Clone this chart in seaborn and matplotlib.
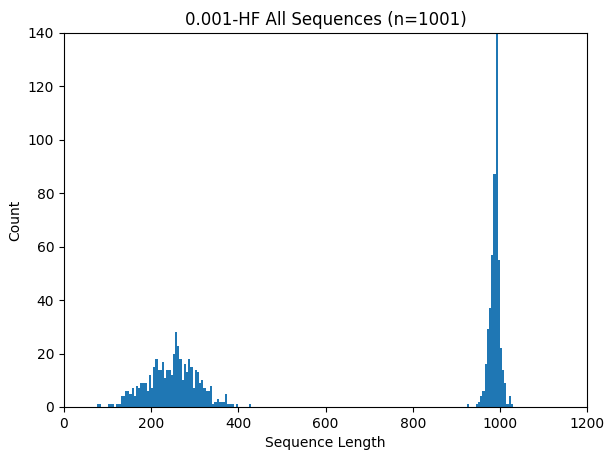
import pandas as pd
import matplotlib
matplotlib.use('Agg')
import matplotlib.pyplot as plt
import seaborn as sns

# ------------------------------------------------------------------
# Data: histogram bins (bin centre, count)
# ------------------------------------------------------------------
short_lengths = [77.5, 82.5, 102.5, 107.5, 112.5, 122.5, 127.5,
                 132.5, 137.5, 142.5, 147.5, 152.5, 157.5, 162.5, 167.5,
                 172.5, 177.5, 182.5, 187.5, 192.5, 197.5, 202.5, 207.5,
                 212.5, 217.5, 222.5, 227.5, 232.5, 237.5, 242.5, 247.5,
                 252.5, 257.5, 262.5, 267.5, 272.5, 277.5, 282.5, 287.5,
                 292.5, 297.5, 302.5, 307.5, 312.5, 317.5, 322.5, 327.5,
                 332.5, 337.5, 342.5, 347.5, 352.5, 357.5, 362.5, 367.5,
                 372.5, 377.5, 382.5, 387.5, 397.5, 427.5]
short_counts = [1, 1, 1, 1, 1, 1, 1,
                4, 4, 6, 6, 5, 7, 4, 8,
                7, 9, 9, 9, 6, 12, 7, 15,
                18, 14, 14, 17, 11, 14, 14, 12,
                20, 28, 23, 18, 10, 16, 13, 18,
                15, 7, 14, 13, 9, 10, 7, 6,
                6, 8, 1, 2, 3, 2, 2, 2,
                5, 1, 1, 1, 1, 1]

long_lengths = [927.5, 947.5, 952.5, 957.5, 962.5, 967.5, 972.5, 977.5,
                982.5, 987.5, 992.5, 997.5, 1002.5, 1007.5, 1012.5,
                1017.5, 1022.5, 1027.5]
long_counts = [1, 1, 2, 4, 6, 16, 29, 37,
               57, 87, 153, 55, 22, 14, 9,
               1, 4, 1]

df = pd.DataFrame({
    'length': short_lengths + long_lengths,
    'count': short_counts + long_counts,
})
n_total = int(df['count'].sum())

# ------------------------------------------------------------------
# Plot
# ------------------------------------------------------------------
fig, ax = plt.subplots(figsize=(6.09, 4.5), dpi=100)
fig.subplots_adjust(left=0.105, right=0.964, top=0.927, bottom=0.0956)

sns.histplot(data=df, x='length', weights='count', binwidth=5, binrange=(75, 1030),
             color='#1f77b4', alpha=1, linewidth=0, ax=ax)

ax.set_xlim(0, 1200)
ax.set_ylim(0, 140)
ax.set_xticks(range(0, 1201, 200))
ax.set_yticks(range(0, 141, 20))
ax.set_title(f'0.001-HF All Sequences (n={n_total})')
ax.set_xlabel('Sequence Length')
ax.set_ylabel('Count')

fig.savefig('out.png', dpi=100)
